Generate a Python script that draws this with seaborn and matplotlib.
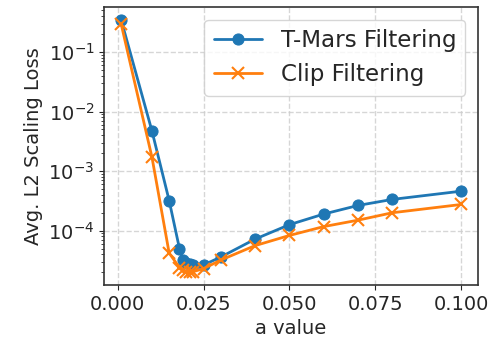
import matplotlib
matplotlib.use("Agg")
import matplotlib.pyplot as plt
import seaborn as sns
import pandas as pd

a_tmars = [0.001, 0.01, 0.015, 0.018, 0.019, 0.02, 0.021, 0.022, 0.025, 0.03, 0.04, 0.05, 0.06, 0.07, 0.08, 0.1]
loss_tmars = [0.35, 4.7e-3, 3.2e-4, 5.0e-5, 3.2e-5, 2.9e-5, 2.75e-5, 2.65e-5, 2.65e-5, 3.6e-5, 7.2e-5, 1.26e-4, 1.9e-4, 2.65e-4, 3.35e-4, 4.6e-4]
a_clip = [0.001, 0.01, 0.015, 0.018, 0.019, 0.02, 0.021, 0.022, 0.025, 0.03, 0.04, 0.05, 0.06, 0.07, 0.08, 0.1]
loss_clip = [0.30, 1.7e-3, 4.2e-5, 2.4e-5, 2.2e-5, 2.05e-5, 2.0e-5, 2.05e-5, 2.3e-5, 3.2e-5, 5.6e-5, 8.3e-5, 1.17e-4, 1.5e-4, 2.0e-4, 2.75e-4]
series_names = ["T-Mars Filtering", "Clip Filtering"]

sns.set_style("ticks")
plt.rcParams["font.family"] = ["DejaVu Sans"]
plt.rcParams["font.size"] = 14

fig = plt.figure(figsize=(4.98, 3.5), dpi=100)
ax = fig.add_axes([0.209, 0.186, 0.751, 0.794])

blue = "#1f77b4"
orange = "#ff7f0e"
df1 = pd.DataFrame({"a": a_tmars, "loss": loss_tmars})
df2 = pd.DataFrame({"a": a_clip, "loss": loss_clip})
sns.lineplot(data=df1, x="a", y="loss", ax=ax, color=blue, marker="o", markersize=8,
             markeredgecolor=blue, linewidth=2, label=series_names[0])
sns.lineplot(data=df2, x="a", y="loss", ax=ax, color=orange, marker="x", markersize=8,
             markeredgecolor=orange, markeredgewidth=1.5, linewidth=2, label=series_names[1])

ax.set_yscale("log")
ax.set_xticks([0.0, 0.025, 0.05, 0.075, 0.1])
ax.set_xticklabels(["0.000", "0.025", "0.050", "0.075", "0.100"])
ax.set_xlabel("a value", fontsize=14)
ax.set_ylabel("Avg. L2 Scaling Loss", fontsize=14)
ax.tick_params(labelsize=14)
ax.grid(True, linestyle="--", color="#cccccc", linewidth=1, alpha=0.8)
for s in ax.spines.values():
    s.set_linewidth(1.2)
    s.set_color("#333333")
ax.legend(loc="upper right", fontsize=16.6, frameon=True, handlelength=2.1,
          labelspacing=0.5, handletextpad=0.8, borderaxespad=0.55)
fig.savefig("out.png", dpi=100)
